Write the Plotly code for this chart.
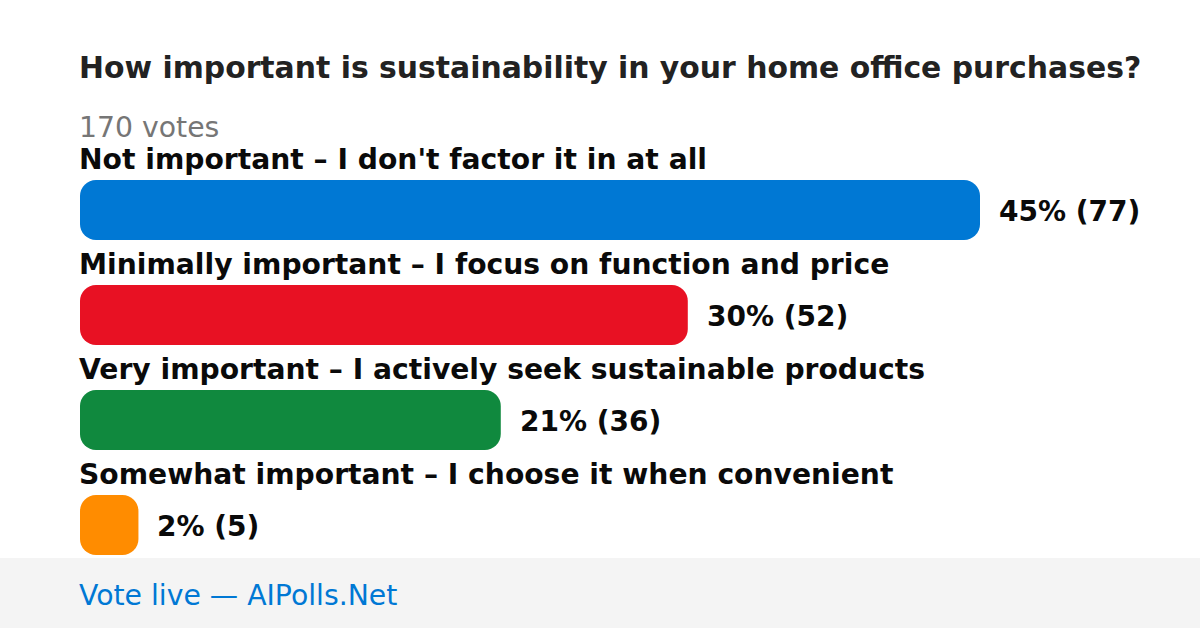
import plotly.graph_objects as go

title = "How important is sustainability in your home office purchases?"
total_label = "170 votes"
categories = [
    "Not important – I don't factor it in at all",
    "Minimally important – I focus on function and price",
    "Very important – I actively seek sustainable products",
    "Somewhat important – I choose it when convenient",
]
votes = [77, 52, 36, 5]
percents = [45, 30, 21, 2]
colors = ["#0078d4", "#e81123", "#10893e", "#ff8c00"]
footer = "Vote live — AIPolls.Net"

W, H = 1200, 628
LEFT = 80
MAX_BAR_PX = 900
ROW_PX = 105
FIRST_ROW_PX = 210
BAR_PX = 60
FONT = "DejaVu Sans"
PAD = -3  # compensate annotation inner padding

plot_w = W - LEFT
x_max = max(votes) * plot_w / MAX_BAR_PX
y_top = -FIRST_ROW_PX / ROW_PX
y_bot = (H - FIRST_ROW_PX) / ROW_PX
idx = list(range(len(categories)))

fig = go.Figure()
fig.add_trace(go.Bar(
    x=votes, base=[0] * len(votes), y=idx, orientation="h",
    marker=dict(color=colors, line=dict(width=0)),
    width=BAR_PX / ROW_PX, hoverinfo="skip",
))

annotations = []
for i, (c, v, p) in enumerate(zip(categories, votes, percents)):
    annotations.append(dict(
        text=f"<b>{c}</b>", x=0, xref="x", y=i - 0.5, yref="y",
        xanchor="left", yanchor="middle", showarrow=False, xshift=PAD,
        font=dict(family=FONT, size=28.2, color="#0a0a0a"), yshift=-2,
    ))
    annotations.append(dict(
        text=f"<b>{p}% ({v})</b>", x=v, xref="x", y=i, yref="y",
        xanchor="left", yanchor="middle", showarrow=False, xshift=20 + PAD,
        font=dict(family=FONT, size=28, color="#0a0a0a"), yshift=-1,
    ))

annotations.append(dict(
    text=f"<b>{title}</b>", x=0, xref="paper", y=1 - 68 / H, yref="paper",
    xanchor="left", yanchor="middle", showarrow=False, xshift=PAD,
    font=dict(family=FONT, size=29.85, color="#222222"),
))
annotations.append(dict(
    text=total_label, x=0, xref="paper", y=1 - 127 / H, yref="paper",
    xanchor="left", yanchor="middle", showarrow=False, xshift=PAD,
    font=dict(family=FONT, size=28.3, color="#767676"),
))
annotations.append(dict(
    text=footer, x=0, xref="paper", y=1 - 595 / H, yref="paper",
    xanchor="left", yanchor="middle", showarrow=False, xshift=PAD,
    font=dict(family=FONT, size=28.3, color="#0078d4"),
))

fig.update_layout(
    width=W, height=H,
    margin=dict(l=LEFT, r=0, t=0, b=0),
    paper_bgcolor="white", plot_bgcolor="rgba(0,0,0,0)",
    barcornerradius=16,
    showlegend=False,
    xaxis=dict(range=[0, x_max], visible=False, fixedrange=True),
    yaxis=dict(range=[y_bot, y_top], visible=False, fixedrange=True),
    annotations=annotations,
    shapes=[dict(type="rect", xref="paper", yref="paper",
                 x0=-LEFT / plot_w, x1=1, y0=0, y1=70 / H,
                 fillcolor="#f4f4f4", line=dict(width=0), layer="below")],
)

fig.write_html(
    "out.html",
    config={"displayModeBar": False},
    post_script="document.body.style.margin='0px';document.body.style.overflow='hidden';",
)
